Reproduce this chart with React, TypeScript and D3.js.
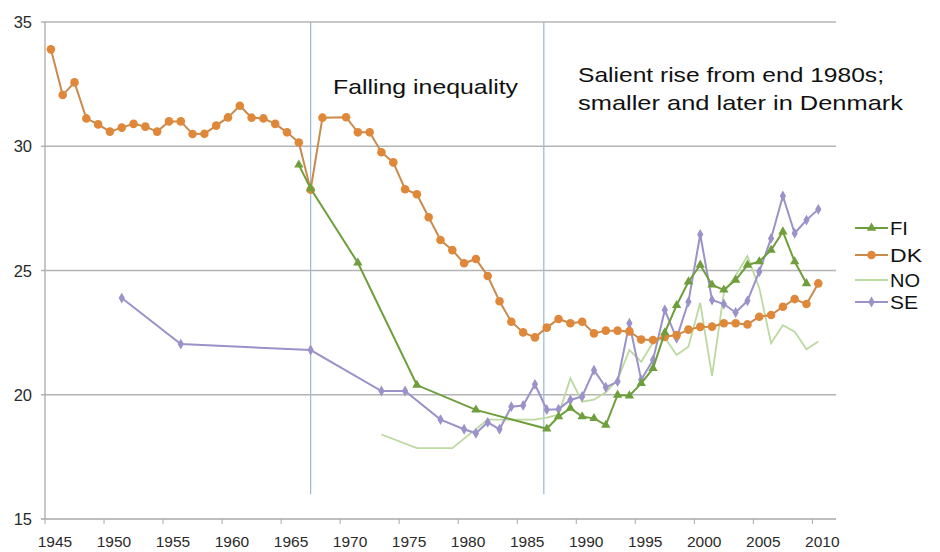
import React from "react";
import * as d3 from "d3";

type Pt = [number, number];

const dkYears = [1945,1946,1947,1948,1949,1950,1951,1952,1953,1954,1955,1956,1957,1958,1959,1960,1961,1962,1963,1964,1965,1966,1967,1968,1970,1971,1972,1973,1974,1975,1976,1977,1978,1979,1980,1981,1982,1983,1984,1985,1986,1987,1988,1989,1990,1991,1992,1993,1994,1995,1996,1997,1998,1999,2000,2001,2002,2003,2004,2005,2006,2007,2008,2009,2010];
const dkValues = [33.9,32.06,32.57,31.12,30.88,30.59,30.75,30.9,30.79,30.59,31.0,31.0,30.49,30.5,30.83,31.16,31.63,31.15,31.12,30.9,30.56,30.15,28.25,31.15,31.17,30.56,30.56,29.76,29.35,28.27,28.07,27.14,26.23,25.82,25.29,25.46,24.78,23.76,22.94,22.51,22.31,22.7,23.05,22.88,22.94,22.47,22.58,22.58,22.55,22.22,22.2,22.33,22.4,22.62,22.73,22.74,22.88,22.88,22.83,23.14,23.21,23.54,23.85,23.65,24.48];

const fiYears = [1966,1967,1971,1976,1981,1987,1988,1989,1990,1991,1992,1993,1994,1995,1996,1997,1998,1999,2000,2001,2002,2003,2004,2005,2006,2007,2008,2009];
const fiValues = [29.25,28.3,25.31,20.39,19.39,18.63,19.12,19.46,19.12,19.05,18.78,19.99,19.96,20.46,21.06,22.5,23.6,24.55,25.22,24.42,24.22,24.62,25.22,25.36,25.82,26.56,25.36,24.48];

const noYears = [1973,1976,1979,1982,1986,1987,1988,1989,1990,1991,1992,1993,1994,1995,1996,1997,1998,1999,2000,2001,2002,2003,2004,2005,2006,2007,2008,2009,2010];
const noValues = [18.4,17.85,17.85,19.0,19.0,19.08,19.2,20.66,19.72,19.8,20.1,20.6,21.8,21.33,22.1,22.3,21.6,21.93,23.7,20.75,24.1,24.8,25.58,24.3,22.07,22.8,22.54,21.83,22.14];

const seYears = [1951,1956,1967,1973,1975,1978,1980,1981,1982,1983,1984,1985,1986,1987,1988,1989,1990,1991,1992,1993,1994,1995,1996,1997,1998,1999,2000,2001,2002,2003,2004,2005,2006,2007,2008,2009,2010];
const seValues = [23.89,22.04,21.8,20.15,20.15,19.0,18.61,18.45,18.89,18.61,19.52,19.57,20.42,19.4,19.42,19.79,19.93,20.99,20.3,20.53,22.88,20.6,21.4,23.41,22.27,23.74,26.45,23.81,23.65,23.31,23.78,24.95,26.29,28.0,26.5,27.03,27.46];

const yTicks = [15, 20, 25, 30, 35];
const xTicks = [1945,1950,1955,1960,1965,1970,1975,1980,1985,1990,1995,2000,2005,2010];
const periodLines = [1967, 1986.75];
const legendLabels = ["FI", "DK", "NO", "SE"];
const annotations = ["Falling inequality", "Salient rise from end 1980s;", "smaller and later in Denmark"];

const zip = (xs: number[], ys: number[]): Pt[] => xs.map((x, i) => [x, ys[i]]);

const COLORS: Record<string, string> = {
  FI: "#6f9e3c",
  DK: "#e0883a",
  NO: "#bcd9a0",
  SE: "#9a92c9",
};

export default function App() {
  const W = 940, H = 552;
  const x = d3.scaleLinear().domain([1944.5, 2011.5]).range([45, 836]);
  const y = d3.scaleLinear().domain([15, 35]).range([519, 22]);
  const line = d3.line<Pt>().x(d => x(d[0])).y(d => y(d[1]));

  const dk = zip(dkYears, dkValues);
  const fi = zip(fiYears, fiValues);
  const no = zip(noYears, noValues);
  const se = zip(seYears, seValues);

  const font = "'Liberation Sans', Arial, Helvetica, sans-serif";
  const tri = d3.symbol().type(d3.symbolTriangle).size(38)() as string;
  const dia = d3.symbol().type(d3.symbolDiamond).size(34)() as string;

  const annPos = [
    { x: 333, y: 94, w: 185 },
    { x: 578, y: 82, w: 306 },
    { x: 578, y: 110, w: 325 },
  ];
  const legendY = [228, 255, 280, 302];
  const legendW = [18, 32, 30, 28];

  return (
    <svg width={W} height={H} style={{ position: "absolute", left: 0, top: 0, background: "#fff" }} fontFamily={font}>
      <rect x={0} y={0} width={W} height={H} fill="#fff" />
      {yTicks.map(t => (
        <g key={t}>
          <line x1={41} x2={836} y1={y(t)} y2={y(t)} stroke={t === 15 ? "#a9a9a9" : "#b4b4b4"} strokeWidth={1.3} />
          <text x={32} y={y(t) + 6} textAnchor="end" fontSize={16.5} fill="#2a2a2a">{t}</text>
        </g>
      ))}
      <line x1={45} x2={45} y1={y(35)} y2={y(15)} stroke="#a9a9a9" strokeWidth={1.3} />
      {xTicks.map(t => (
        <g key={t}>
          <line x1={x(t - 0.5)} x2={x(t - 0.5)} y1={y(15)} y2={y(15) + 5} stroke="#a9a9a9" strokeWidth={1} />
          <text x={x(t) + 4} y={547} textAnchor="middle" fontSize={15.5} fill="#2a2a2a">{t}</text>
        </g>
      ))}
      {periodLines.map(p => (
        <line key={p} x1={x(p)} x2={x(p)} y1={y(35)} y2={y(16)} stroke="#9fbcd6" strokeWidth={1.3} />
      ))}

      {annotations.map((a, i) => (
        <text key={a} x={annPos[i].x} y={annPos[i].y} fontSize={21} fill="#111"
          textLength={annPos[i].w} lengthAdjust="spacingAndGlyphs">{a}</text>
      ))}

      <path d={line(no) || ""} fill="none" stroke={COLORS.NO} strokeWidth={1.8} />
      <path d={line(se) || ""} fill="none" stroke={COLORS.SE} strokeWidth={2} />
      {se.map((d, i) => (
        <path key={i} d={dia} transform={`translate(${x(d[0])},${y(d[1])})`} fill={COLORS.SE} />
      ))}
      <path d={line(dk) || ""} fill="none" stroke="#c98a4c" strokeWidth={2} />
      {dk.map((d, i) => (
        <circle key={i} cx={x(d[0])} cy={y(d[1])} r={4.3} fill={COLORS.DK} />
      ))}
      <path d={line(fi) || ""} fill="none" stroke={COLORS.FI} strokeWidth={2} />
      {fi.map((d, i) => (
        <path key={i} d={tri} transform={`translate(${x(d[0])},${y(d[1])})`} fill={COLORS.FI} />
      ))}

      {legendLabels.map((k, i) => {
        const ly = legendY[i];
        return (
          <g key={k}>
            <line x1={855} x2={888} y1={ly} y2={ly} stroke={k === "DK" ? "#c98a4c" : COLORS[k]} strokeWidth={2} />
            {k === "FI" && <path d={tri} transform={`translate(871.5,${ly})`} fill={COLORS.FI} />}
            {k === "DK" && <circle cx={871.5} cy={ly} r={4.3} fill={COLORS.DK} />}
            {k === "SE" && <path d={dia} transform={`translate(871.5,${ly})`} fill={COLORS.SE} />}
            <text x={890} y={ly + 7} fontSize={19} fill="#111" textLength={legendW[i]} lengthAdjust="spacingAndGlyphs">{k}</text>
          </g>
        );
      })}
    </svg>
  );
}
